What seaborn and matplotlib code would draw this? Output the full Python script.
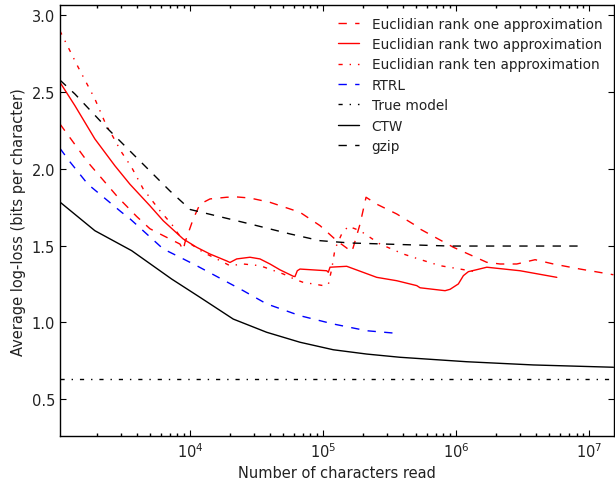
import matplotlib
matplotlib.use("Agg")
import matplotlib.pyplot as plt
import seaborn as sns

# ---- data ----
rank1_x = [1048, 1701, 2860, 3954, 4973, 6266, 8367, 8857, 9124, 10535, 11830, 14070,
           18780, 22337, 28115, 39740, 66790, 94460, 126120, 163500, 168100, 188800,
           209500, 252000, 356400, 475000, 533500, 949300, 1693000, 2131000, 2845000,
           3906000, 5362000, 8513000, 15150000]
rank1_y = [2.293, 2.043, 1.815, 1.69, 1.61, 1.565, 1.51, 1.47, 1.52, 1.674, 1.77, 1.804,
           1.815, 1.817, 1.81, 1.782, 1.717, 1.63, 1.532, 1.46, 1.49, 1.64,
           1.815, 1.77, 1.706, 1.64, 1.608, 1.489, 1.391, 1.38, 1.38,
           1.408, 1.38, 1.347, 1.31]

rank2_x = [1048, 1359, 1920, 2716, 3521, 4973, 6266, 8857, 11170, 14070, 18780, 19887,
           22337, 28115, 33430, 39740, 47250, 59490, 61270, 63760, 66790, 106070, 109030,
           112300, 149970, 252000, 356400, 504000, 533500, 822400, 896800, 1035000,
           1129000, 1231000, 1423000, 1693000, 3013000, 5686000]
rank2_y = [2.565, 2.412, 2.195, 2.02, 1.90, 1.76, 1.662, 1.543, 1.489, 1.445, 1.40, 1.39,
           1.413, 1.424, 1.413, 1.38, 1.342, 1.30, 1.298, 1.336, 1.347, 1.336, 1.326,
           1.359, 1.365, 1.293, 1.271, 1.239, 1.225, 1.206, 1.215, 1.25,
           1.304, 1.33, 1.343, 1.359, 1.336, 1.293]

rank10_x = [1048, 1439, 1920, 2284, 3050, 3626, 4433, 5920, 7248, 8125, 8857, 12520,
            15793, 19887, 25031, 33430, 50030, 61270, 70710, 84070, 100000, 109030,
            115660, 122460, 137520, 154170, 188800, 266900, 399500, 518000, 754300,
            1066000, 1382000]
rank10_y = [2.90, 2.662, 2.456, 2.304, 2.108, 2.01, 1.869, 1.727, 1.64, 1.576, 1.543, 1.456,
            1.413, 1.369, 1.38, 1.369, 1.315, 1.28, 1.26, 1.25, 1.239, 1.245,
            1.347, 1.478, 1.576, 1.626, 1.597, 1.51, 1.445, 1.413, 1.369,
            1.347, 1.33]

rtrl_x = [1048, 1254, 1701, 3050, 3521, 6266, 8367, 11170, 25031, 37530, 66790, 118900,
          212000, 336000]
rtrl_y = [2.134, 2.043, 1.90, 1.717, 1.675, 1.478, 1.424, 1.369, 1.206, 1.12, 1.043, 0.989,
          0.945, 0.93]

ctw_x = [1048, 1920, 3626, 7248, 11830, 21050, 37530, 66790, 118900, 212000, 377300,
         1197000, 3793000, 15150000]
ctw_y = [1.784, 1.597, 1.467, 1.282, 1.163, 1.021, 0.935, 0.87, 0.821, 0.793, 0.772,
         0.743, 0.722, 0.707]

gzip_x = [1048, 1359, 2284, 3839, 7038, 10000, 28115, 56180, 94460, 158770, 896800, 8513000]
gzip_y = [2.579, 2.488, 2.28, 2.084, 1.856, 1.735, 1.641, 1.576, 1.532, 1.517, 1.497, 1.497]

true_model = 0.63

labels = ["Euclidian rank one approximation", "Euclidian rank two approximation",
          "Euclidian rank ten approximation", "RTRL", "True model", "CTW", "gzip"]

# ---- style ----
sns.set_theme(style="ticks", rc={
    "xtick.direction": "in", "ytick.direction": "in",
    "xtick.top": True, "ytick.right": True,
    "xtick.major.size": 4, "xtick.minor.size": 2,
    "ytick.major.size": 4, "ytick.minor.size": 2,
    "xtick.major.width": 0.8, "ytick.major.width": 0.8,
    "axes.linewidth": 1.0, "axes.edgecolor": "black",
    "font.size": 10.5, "axes.labelsize": 10.5,
    "xtick.labelsize": 10.5, "ytick.labelsize": 10.5,
    "legend.fontsize": 9.8,
    "text.color": "#222222", "axes.labelcolor": "#222222",
    "xtick.color": "black", "ytick.color": "black",
    "xtick.labelcolor": "#222222", "ytick.labelcolor": "#222222",
})
plt.rcParams["font.family"] = ["DejaVu Sans"]

fig = plt.figure(figsize=(6.15, 4.81), dpi=100)
ax = fig.add_axes([60 / 615, 1 - 437.3 / 481, 554 / 615, 431.3 / 481])
ax.set_xscale("log")

dash = (0, (6, 6))
dashdot = (0, (3, 5, 1, 5))

series = [
    (rank1_x, rank1_y, "red", dash),
    (rank2_x, rank2_y, "red", "-"),
    (rank10_x, rank10_y, "red", dashdot),
    (rtrl_x, rtrl_y, "blue", dash),
]
for (x, y, c, ls), lab in zip(series, labels[:4]):
    sns.lineplot(x=x, y=y, ax=ax, color=c, linestyle=ls, linewidth=1.0,
                 label=lab, estimator=None, sort=False, legend=False)

ax.axhline(true_model, color="black", linestyle=dashdot, linewidth=1.0, label=labels[4])

for (x, y, c, ls), lab in zip([(ctw_x, ctw_y, "black", "-"), (gzip_x, gzip_y, "black", dash)],
                              labels[5:]):
    sns.lineplot(x=x, y=y, ax=ax, color=c, linestyle=ls, linewidth=1.0,
                 label=lab, estimator=None, sort=False, legend=False)

ax.set_xlim(1050, 1.53e7)
ax.set_ylim(0.257, 3.068)
ax.set_yticks([0.5, 1.0, 1.5, 2.0, 2.5, 3.0])
ax.set_xlabel("Number of characters read")
ax.set_ylabel("Average log-loss (bits per character)")
ax.tick_params(which="both", direction="in", top=True, right=True)

handles, labs = ax.get_legend_handles_labels()
order = [labs.index(l) for l in labels]
ax.legend([handles[i] for i in order], [labs[i] for i in order],
          loc="upper right", frameon=False, handlelength=1.5, handletextpad=0.95,
          labelspacing=0.47, borderaxespad=0.45)

fig.savefig("out.png", dpi=100)
